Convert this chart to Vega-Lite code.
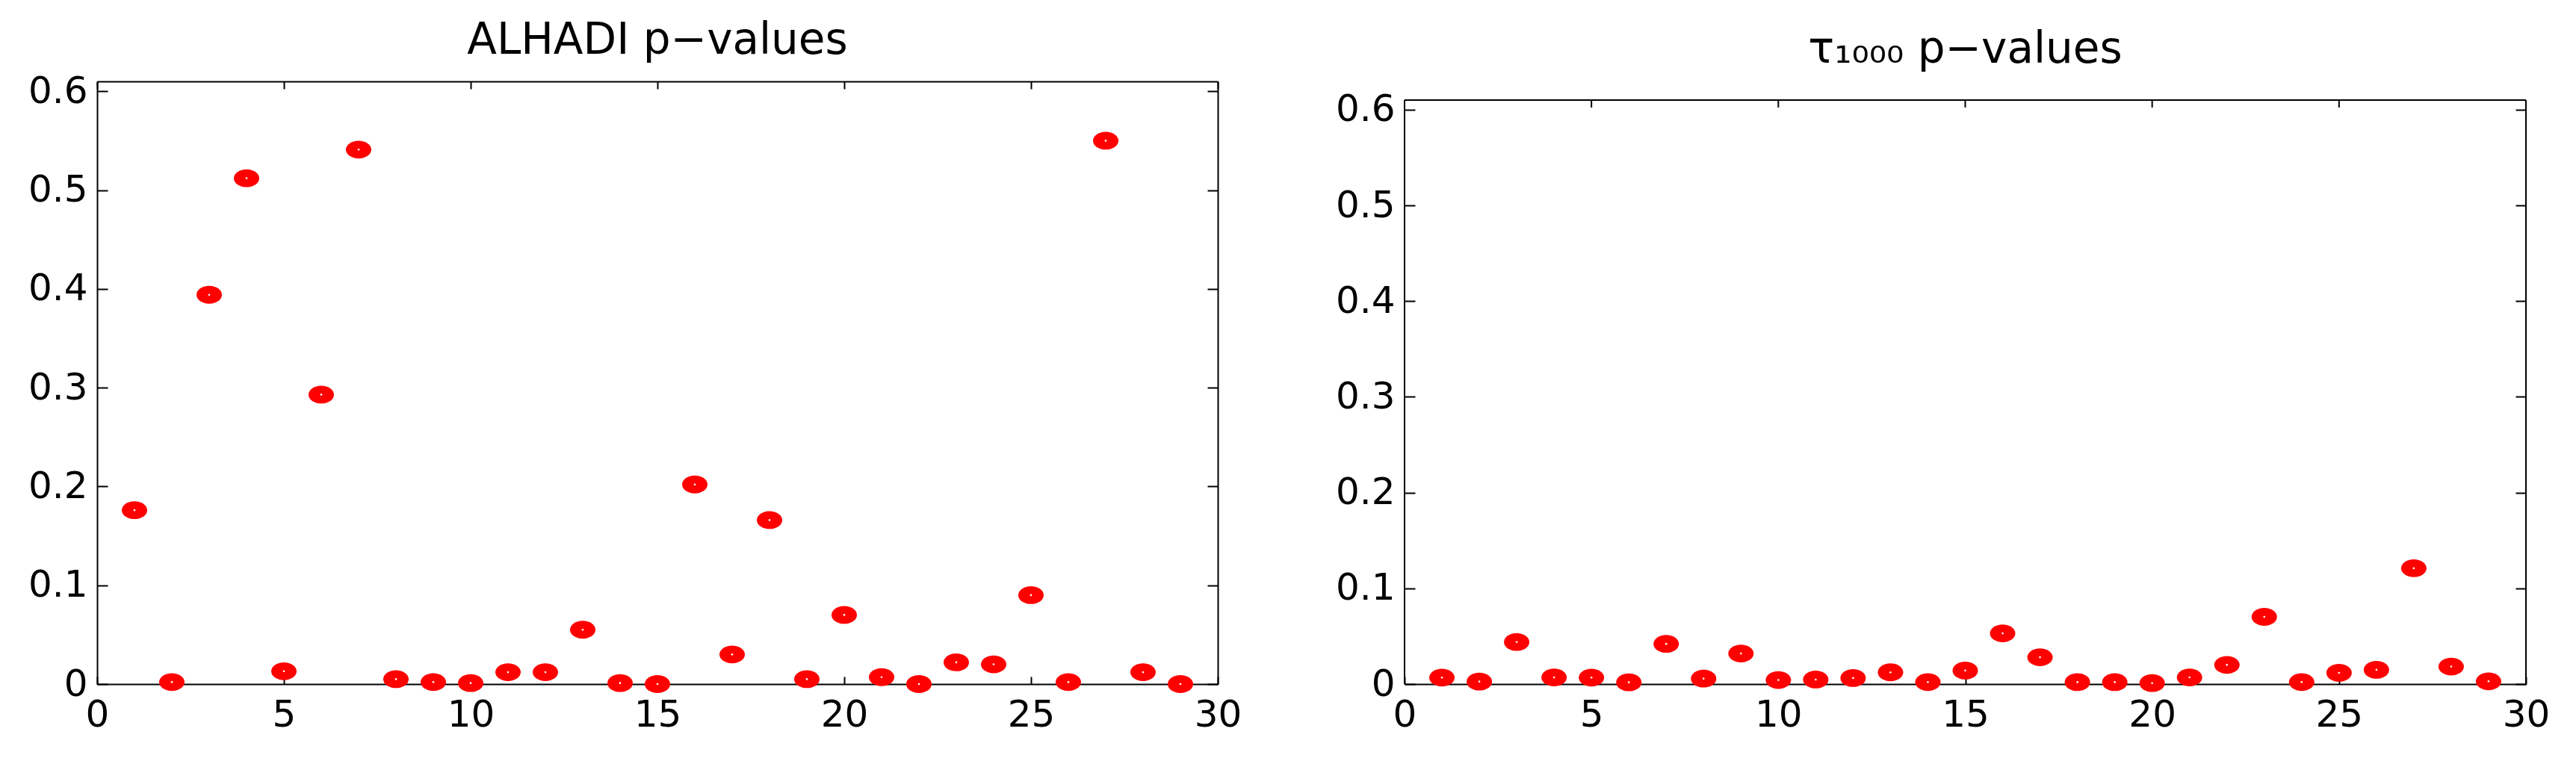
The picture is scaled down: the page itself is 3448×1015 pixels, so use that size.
{
  "$schema": "https://vega.github.io/schema/vega-lite/v6.json",
  "background": "white",
  "padding": {"left": 37, "top": 26, "right": 10, "bottom": 10},
  "spacing": 125,
  "align": "none",
  "config": {
    "view": {"stroke": null},
    "font": "DejaVu Sans",
    "axis": {
      "grid": false,
      "domainColor": "black",
      "domainWidth": 2,
      "tickColor": "black",
      "tickWidth": 2,
      "labelFont": "DejaVu Sans",
      "labelFontSize": 50,
      "labelColor": "black",
      "labelFlush": false,
      "labelOverlap": false,
      "labelBound": false,
      "title": null
    },
    "axisX": {"tickSize": -10, "labelPadding": 26},
    "axisY": {"tickSize": -14, "labelPadding": 27},
    "title": {
      "font": "DejaVu Sans",
      "fontSize": 58,
      "fontWeight": "normal",
      "color": "black",
      "anchor": "middle",
      "baseline": "alphabetic"
    }
  },
  "datasets": {
    "alhadi": [
      {"i": 1, "p": 0.176}, {"i": 2, "p": 0.002}, {"i": 3, "p": 0.394}, {"i": 4, "p": 0.512},
      {"i": 5, "p": 0.013}, {"i": 6, "p": 0.293}, {"i": 7, "p": 0.541}, {"i": 8, "p": 0.005},
      {"i": 9, "p": 0.002}, {"i": 10, "p": 0.001}, {"i": 11, "p": 0.012}, {"i": 12, "p": 0.012},
      {"i": 13, "p": 0.055}, {"i": 14, "p": 0.001}, {"i": 15, "p": 0.0}, {"i": 16, "p": 0.202},
      {"i": 17, "p": 0.030}, {"i": 18, "p": 0.166}, {"i": 19, "p": 0.005}, {"i": 20, "p": 0.070},
      {"i": 21, "p": 0.007}, {"i": 22, "p": 0.0}, {"i": 23, "p": 0.022}, {"i": 24, "p": 0.020},
      {"i": 25, "p": 0.090}, {"i": 26, "p": 0.002}, {"i": 27, "p": 0.550}, {"i": 28, "p": 0.012},
      {"i": 29, "p": 0.0}
    ],
    "tau": [
      {"i": 1, "p": 0.0068}, {"i": 2, "p": 0.0026}, {"i": 3, "p": 0.0439}, {"i": 4, "p": 0.0070},
      {"i": 5, "p": 0.0068}, {"i": 6, "p": 0.0018}, {"i": 7, "p": 0.0420}, {"i": 8, "p": 0.0057},
      {"i": 9, "p": 0.0319}, {"i": 10, "p": 0.0042}, {"i": 11, "p": 0.0047}, {"i": 12, "p": 0.0063},
      {"i": 13, "p": 0.0123}, {"i": 14, "p": 0.0021}, {"i": 15, "p": 0.0141}, {"i": 16, "p": 0.053},
      {"i": 17, "p": 0.028}, {"i": 18, "p": 0.002}, {"i": 19, "p": 0.002}, {"i": 20, "p": 0.001},
      {"i": 21, "p": 0.007}, {"i": 22, "p": 0.020}, {"i": 23, "p": 0.0702}, {"i": 24, "p": 0.0021},
      {"i": 25, "p": 0.0117}, {"i": 26, "p": 0.0149}, {"i": 27, "p": 0.121}, {"i": 28, "p": 0.0183},
      {"i": 29, "p": 0.0029}
    ],
    "topticks": [{"t": 5}, {"t": 10}, {"t": 15}, {"t": 20}, {"t": 25}]
  },
  "hconcat": [
    {
      "width": 1500,
      "height": 807,
      "title": {"text": "ALHADI p−values", "offset": 13},
      "data": {"name": "alhadi"},
      "layer": [
        {
          "mark": {"type": "point", "shape": "M-1,0A1,0.7,0,1,1,1,0A1,0.7,0,1,1,-1,0Z", "filled": true, "color": "#ff0000", "size": 1156, "opacity": 1},
          "encoding": {
            "x": {"field": "i", "type": "quantitative", "scale": {"domain": [0, 30], "nice": false, "zero": false}, "axis": {"orient": "bottom", "values": [0, 5, 10, 15, 20, 25, 30], "format": "d"}},
            "y": {"field": "p", "type": "quantitative", "scale": {"domain": [0, 0.61], "nice": false}, "axis": {"orient": "left", "values": [0, 0.1, 0.2, 0.3, 0.4, 0.5, 0.6], "format": ".1~f"}}
          }
        },
        {
          "mark": {"type": "point", "shape": "circle", "filled": true, "color": "white", "size": 7, "opacity": 1},
          "encoding": {
            "x": {"field": "i", "type": "quantitative", "axis": {"orient": "top", "values": [0, 5, 10, 15, 20, 25, 30], "labels": false}},
            "y": {"field": "p", "type": "quantitative", "axis": {"orient": "right", "values": [0, 0.1, 0.2, 0.3, 0.4, 0.5, 0.6], "labels": false}}
          }
        }
      ],
      "resolve": {"axis": {"x": "independent", "y": "independent"}}
    },
    {
      "width": 1501,
      "height": 807,
      "title": {"text": "τ₁₀₀₀ p−values", "offset": 13},
      "data": {"name": "tau"},
      "layer": [
        {
          "mark": {"type": "point", "shape": "M-1,0A1,0.7,0,1,1,1,0A1,0.7,0,1,1,-1,0Z", "filled": true, "color": "#ff0000", "size": 1156, "opacity": 1},
          "encoding": {
            "x": {"field": "i", "type": "quantitative", "scale": {"domain": [0, 30], "nice": false, "zero": false}, "axis": {"orient": "bottom", "values": [0, 5, 10, 15, 20, 25, 30], "format": "d"}},
            "y": {"field": "p", "type": "quantitative", "scale": {"domain": [0, 0.6295], "nice": false}, "axis": {"orient": "left", "domain": false, "values": [0, 0.1, 0.2, 0.3, 0.4, 0.5, 0.6], "format": ".1~f"}}
          }
        },
        {
          "mark": {"type": "point", "shape": "circle", "filled": true, "color": "white", "size": 7, "opacity": 1},
          "encoding": {
            "x": {"field": "i", "type": "quantitative", "axis": null},
            "y": {"field": "p", "type": "quantitative", "axis": {"orient": "right", "domain": false, "values": [0, 0.1, 0.2, 0.3, 0.4, 0.5, 0.6], "labels": false}}
          }
        },
        {
          "mark": {"type": "rule", "color": "black", "strokeWidth": 2},
          "encoding": {
            "x": {"datum": 0, "type": "quantitative", "axis": null},
            "y": {"datum": 0, "type": "quantitative", "axis": null},
            "y2": {"datum": 0.61}
          }
        },
        {
          "mark": {"type": "rule", "color": "black", "strokeWidth": 2},
          "encoding": {
            "x": {"datum": 30, "type": "quantitative", "axis": null},
            "y": {"datum": 0, "type": "quantitative", "axis": null},
            "y2": {"datum": 0.61}
          }
        },
        {
          "mark": {"type": "rule", "color": "black", "strokeWidth": 2},
          "encoding": {
            "x": {"datum": 0, "type": "quantitative", "axis": null},
            "x2": {"datum": 30},
            "y": {"datum": 0.61, "type": "quantitative", "axis": null}
          }
        },
        {
          "data": {"name": "topticks"},
          "mark": {"type": "rule", "color": "black", "strokeWidth": 2},
          "encoding": {
            "x": {"field": "t", "type": "quantitative", "axis": null},
            "y": {"datum": 0.61, "type": "quantitative", "axis": null},
            "y2": {"datum": 0.6022}
          }
        }
      ],
      "resolve": {"axis": {"x": "independent", "y": "independent"}}
    }
  ]
}
